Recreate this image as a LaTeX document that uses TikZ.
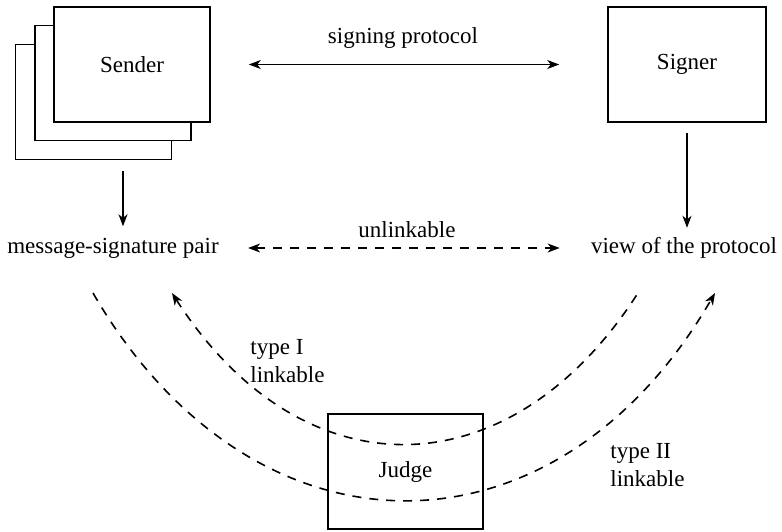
\documentclass[tikz,border=0pt]{standalone}
\usepackage{fontspec}
\setmainfont{Liberation Serif}
\newcommand{\boxwidth}{78pt}
\newcommand{\boxheight}{57.5pt}
\usetikzlibrary{arrows.meta,calc,positioning}
\tikzset{
  >={Stealth[length=6pt,width=4.5pt,inset=1.8pt]},
  font=\fontsize{11.5}{14}\selectfont,
  rect/.style={draw,fill=white,shape=rectangle,minimum width=\boxwidth,minimum height=\boxheight,line width=0.8pt},
  txt/.style={inner sep=0pt},
  line/.style={draw,line width=0.7pt},
  dline/.style={line,line width=0.8pt,dash pattern=on 4.5pt off 4pt},
}
\begin{document}
\begin{tikzpicture}[x=0.5pt,y=-0.5pt]
      \useasboundingbox (0,0) rectangle (782,531);
      % sender stack, back to front
      \node (back) [rect] at (93.5,102) {};
      \node (middle) [rect] at (113,83) {};
      \node (sender) [rect] at (132,64.5) {Sender};
      \node (signer) [rect,minimum width=79pt] at (687,64.5) {Signer};
      \node (judge) [rect,fill=none,minimum width=77.5pt] at (405.5,471.5) {Judge};
      \node (msg) [txt] at (113,248) {message-signature pair};
      \node (view) [txt] at (684,248) {view of the protocol};
      \node (sp) [txt] at (403,38) {signing protocol};
      \node (unl) [txt] at (407,230) {unlinkable};
      \node (t1) [txt,align=left,anchor=west] at (250,361) {type I\\linkable};
      \node (t2) [txt,align=left,anchor=west] at (610,465) {type II\\linkable};
      \coordinate (a1) at (172,293);
      \coordinate (b1) at (638,293);
      \coordinate (a2) at (93,293);
      \coordinate (b2) at (715,293);
      \path [line,<->,shorten <=19pt,shorten >=24pt] (sender) -- (signer);
      \path [line,->] ($(back.south)+(29.5,11)$) -- ++(0,55);
      \path [line,->] ($(signer.south)+(0,10)$) -- ++(0,95);
      \path [dline,<->,shorten <=14.5pt,shorten >=15.5pt] (msg) -- (view);
      \path [dline,<-] (a1) .. controls (301,494) and (509,494) .. (b1);
      \path [dline,->] (a2) .. controls (253,569) and (555,569) .. (b2);
    \end{tikzpicture}
\end{document}
